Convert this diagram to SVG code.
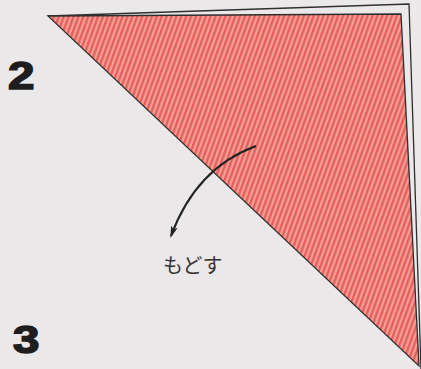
<svg xmlns="http://www.w3.org/2000/svg" width="421" height="369" viewBox="0 0 421 369">
  <defs>
    <pattern id="hatch" patternUnits="userSpaceOnUse" width="4.6" height="4.6" patternTransform="rotate(20)">
      <rect width="4.6" height="4.6" fill="#f4a096"/>
      <rect width="2.4" height="4.6" fill="#e5605d"/>
    </pattern>
    <marker id="arrow" viewBox="0 0 12 10" refX="10" refY="5" markerWidth="6" markerHeight="5" orient="auto" markerUnits="strokeWidth">
      <path d="M0,1.5 L12,5 L0,8.5 L3,5 Z" fill="#222"/>
    </marker>
    <style>
      .num { font-family: "Liberation Sans", Arial, sans-serif; font-weight: bold; font-size: 38px; fill: #1e1e1e; stroke: #1e1e1e; stroke-width: 1.6px; }
      .label { font-family: "Noto Sans CJK JP", "Noto Sans CJK SC", sans-serif; font-size: 20px; fill: #333; }
      .edge { fill: none; stroke: #2e2e2e; stroke-width: 1.3; }
    </style>
  </defs>
  <rect width="421" height="369" fill="#ebe8ea"/>
  <g id="paper-outline">
    <path class="edge" d="M48,16 L409,4 L421,369"/>
  </g>
  <g id="triangle">
    <path d="M48,16 L401,14 L419,366 Z" fill="url(#hatch)" stroke="#2e2e2e" stroke-width="1.3" stroke-linejoin="miter"/>
  </g>
  <g id="step2">
    <text class="num" x="8" y="89" transform="translate(8 89) scale(1.25 1) translate(-8 -89)">2</text>
  </g>
  <g id="step3">
    <text class="num" x="13" y="353" transform="translate(13 353) scale(1.25 1) translate(-13 -353)">3</text>
  </g>
  <g id="connectors">
    <path d="M256,146 Q196,168 171,236" fill="none" stroke="#222" stroke-width="2" marker-end="url(#arrow)"/>
  </g>
  <g id="label">
    <text class="label" x="163" y="273">もどす</text>
  </g>
</svg>
